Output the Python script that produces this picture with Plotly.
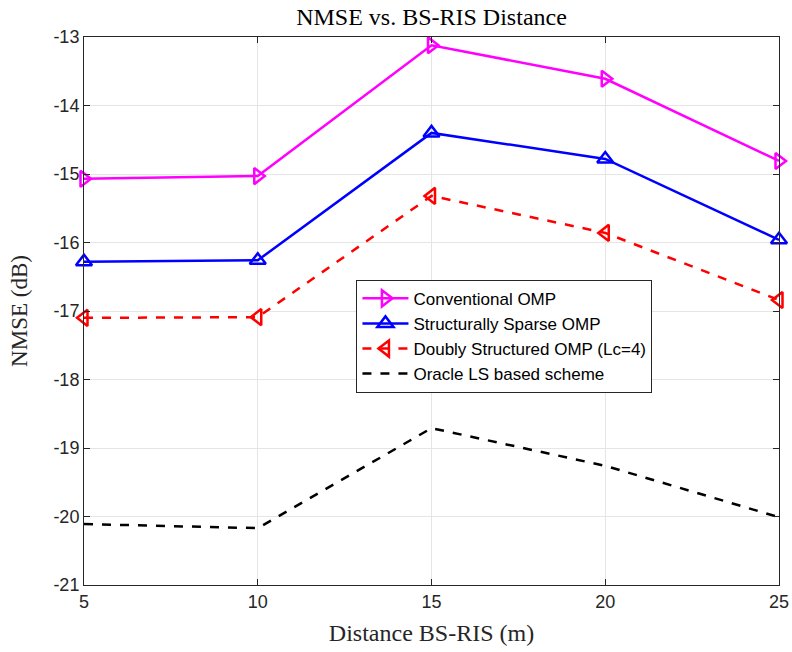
import plotly.graph_objects as go

distance = [5, 10, 15, 20, 25]
conv_omp = [-15.07, -15.03, -13.12, -13.61, -14.81]
struct_omp = [-16.28, -16.26, -14.40, -14.78, -15.96]
doubly_omp = [-17.10, -17.09, -15.32, -15.86, -16.84]
oracle_ls = [-20.11, -20.17, -18.71, -19.26, -20.01]

x_ticks = [5, 10, 15, 20, 25]
x_labels = ["5", "10", "15", "20", "25"]
y_ticks = [-21, -20, -19, -18, -17, -16, -15, -14, -13]
y_labels = ["-21", "-20", "-19", "-18", "-17", "-16", "-15", "-14", "-13"]

fig = go.Figure()
fig.add_trace(go.Scatter(x=distance, y=conv_omp, name="Conventional OMP",
    mode="lines+markers", line=dict(color="#ff00ff", width=2.5),
    marker=dict(symbol="triangle-right-open", size=14, line=dict(width=2.5, color="#ff00ff")),
    cliponaxis=False))
fig.add_trace(go.Scatter(x=distance, y=struct_omp, name="Structurally Sparse OMP",
    mode="lines+markers", line=dict(color="#0000ff", width=2.5),
    marker=dict(symbol="triangle-up-open", size=14, line=dict(width=2.5, color="#0000ff")),
    cliponaxis=False))
fig.add_trace(go.Scatter(x=distance, y=doubly_omp, name="Doubly Structured OMP (Lc=4)",
    mode="lines+markers", line=dict(color="#ff0000", width=2.5, dash="dash"),
    marker=dict(symbol="triangle-left-open", size=14, line=dict(width=2.5, color="#ff0000")),
    cliponaxis=False))
fig.add_trace(go.Scatter(x=distance, y=oracle_ls, name="Oracle LS based scheme",
    mode="lines", line=dict(color="#000000", width=2.5, dash="dash")))

axis_common = dict(showline=True, linecolor="#262626", linewidth=1, mirror="ticks",
    ticks="inside", ticklen=6, tickcolor="#262626", showgrid=True, gridcolor="#e5e5e5",
    gridwidth=1, zeroline=False, automargin=False,
    tickfont=dict(family="Liberation Sans, Arial", size=18, color="#262626"))

fig.update_xaxes(range=[5, 25], tickvals=x_ticks, ticktext=x_labels, **axis_common,
    title=dict(text="Distance BS-RIS (m)", font=dict(family="Liberation Serif, Times New Roman", size=24, color="#262626"), standoff=13))
fig.update_yaxes(range=[-21, -13], tickvals=y_ticks, ticktext=y_labels, **axis_common,
    title=dict(text="NMSE (dB)", font=dict(family="Liberation Serif, Times New Roman", size=23, color="#262626"), standoff=19))

fig.update_layout(
    width=792, height=652,
    margin=dict(l=84, r=13, t=37, b=67, autoexpand=False),
    paper_bgcolor="white", plot_bgcolor="white",
    title=dict(text="NMSE vs. BS-RIS Distance", x=0.5, xref="paper", xanchor="center",
        y=1, yref="paper", yanchor="bottom", pad=dict(b=12), automargin=False,
        font=dict(family="Liberation Serif, Times New Roman", size=24, color="#000000")),
    legend=dict(x=0.392, y=0.557, xanchor="left", yanchor="top",
        bgcolor="white", bordercolor="#262626", borderwidth=1,
        font=dict(family="Liberation Sans, Arial", size=17, color="#000000"),
        tracegroupgap=0, itemwidth=46),
    showlegend=True,
)

fig.write_html("out.html", config={"displayModeBar": False},
               post_script="document.body.style.margin='0';document.body.style.overflow='hidden';")
